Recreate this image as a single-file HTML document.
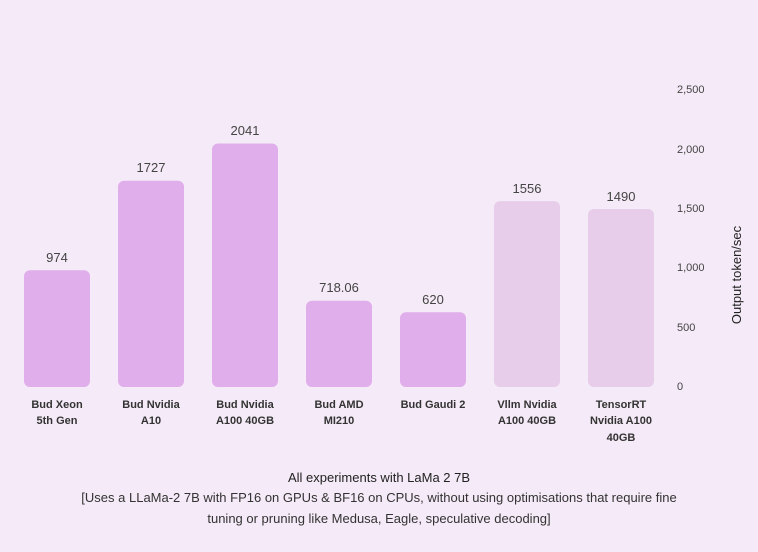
<!DOCTYPE html>
<html><head><meta charset="utf-8"><style>
html,body{margin:0;padding:0;background:#f5eaf7;}
svg{display:block;font-family:"Liberation Sans",sans-serif;}
</style></head><body>
<svg width="758" height="552" viewBox="0 0 758 552" xmlns="http://www.w3.org/2000/svg">
<rect width="758" height="552" fill="#f5eaf7"/>
<g fill="#e0aeea">
<rect x="24" y="270.3" width="66" height="116.7" rx="6"/>
<rect x="118" y="180.8" width="66" height="206.2" rx="6"/>
<rect x="212" y="143.5" width="66" height="243.5" rx="6"/>
<rect x="306" y="300.7" width="66" height="86.3" rx="6"/>
<rect x="400" y="312.3" width="66" height="74.7" rx="6"/>
</g>
<g fill="#e7cdea">
<rect x="494" y="201.1" width="66" height="185.9" rx="6"/>
<rect x="588" y="209" width="66" height="178" rx="6"/>
</g>
<g fill="#444" font-size="13" text-anchor="middle">
<text x="57" y="262">974</text>
<text x="151" y="172">1727</text>
<text x="245" y="135">2041</text>
<text x="339" y="292">718.06</text>
<text x="433" y="304">620</text>
<text x="527" y="193">1556</text>
<text x="621" y="201">1490</text>
</g>
<g fill="#333" font-size="11" font-weight="bold" text-anchor="middle">
<text x="57" y="408">Bud Xeon</text><text x="57" y="424">5th Gen</text>
<text x="151" y="408">Bud Nvidia</text><text x="151" y="424">A10</text>
<text x="245" y="408">Bud Nvidia</text><text x="245" y="424">A100 40GB</text>
<text x="339" y="408">Bud AMD</text><text x="339" y="424">MI210</text>
<text x="433" y="408">Bud Gaudi 2</text>
<text x="527" y="408">Vllm Nvidia</text><text x="527" y="424">A100 40GB</text>
<text x="621" y="408">TensorRT</text><text x="621" y="424">Nvidia A100</text><text x="621" y="441">40GB</text>
</g>
<g fill="#444" font-size="11">
<text x="677" y="93">2,500</text>
<text x="677" y="153">2,000</text>
<text x="677" y="212">1,500</text>
<text x="677" y="271">1,000</text>
<text x="677" y="331">500</text>
<text x="677" y="390">0</text>
</g>
<text transform="translate(741,275) rotate(-90)" text-anchor="middle" font-size="13" fill="#222">Output token/sec</text>
<g fill="#222" font-size="13" text-anchor="middle">
<text x="379" y="482">All experiments with LaMa 2 7B</text>
<text x="379" y="502" fill="#333">[Uses a LLaMa-2 7B with FP16 on GPUs &amp; BF16 on CPUs, without using optimisations that require fine</text>
<text x="379" y="523" fill="#333">tuning or pruning like Medusa, Eagle, speculative decoding]</text>
</g>
</svg>
</body></html>
